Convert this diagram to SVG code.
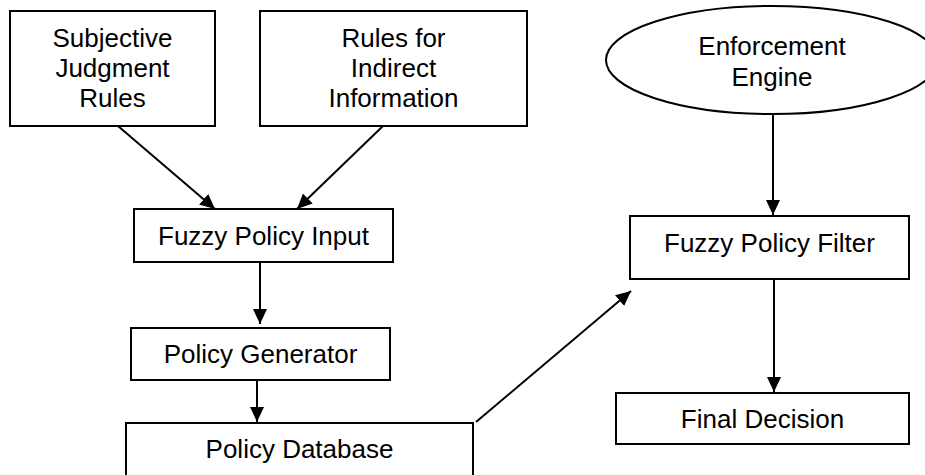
<svg xmlns="http://www.w3.org/2000/svg" width="925" height="475" viewBox="0 0 925 475">
<style>
.box{fill:#fff;stroke:#000;stroke-width:2}
.t{font-family:"Liberation Sans",Arial,sans-serif;font-size:26px;fill:#000;text-anchor:middle}
.c{stroke:#000;stroke-width:2;fill:none;marker-end:url(#ah)}
</style>
<defs>
<marker id="ah" markerWidth="15" markerHeight="14" refX="15" refY="7" orient="auto" markerUnits="userSpaceOnUse">
<path d="M0,0 L15,7 L0,14 Z" fill="#000"/>
</marker>
</defs>
<rect width="925" height="475" fill="#fff"/>
<g id="subjective">
<rect class="box" x="10" y="11" width="205" height="115"/>
<text class="t" x="112.5" y="47">Subjective</text>
<text class="t" x="112.5" y="77">Judgment</text>
<text class="t" x="112.5" y="107">Rules</text>
</g>
<g id="indirect">
<rect class="box" x="260" y="11" width="267" height="115"/>
<text class="t" x="393.5" y="47">Rules for</text>
<text class="t" x="393.5" y="77">Indirect</text>
<text class="t" x="393.5" y="107">Information</text>
</g>
<g id="engine">
<ellipse cx="772" cy="60" rx="166" ry="54" fill="#fff" stroke="#000" stroke-width="2"/>
<text class="t" x="772" y="55">Enforcement</text>
<text class="t" x="772" y="86">Engine</text>
</g>
<g id="input">
<rect class="box" x="134" y="209" width="259" height="53"/>
<text class="t" x="263.5" y="245">Fuzzy Policy Input</text>
</g>
<g id="filter">
<rect class="box" x="630" y="216" width="279" height="63"/>
<text class="t" x="769.5" y="252">Fuzzy Policy Filter</text>
</g>
<g id="generator">
<rect class="box" x="131" y="328" width="259" height="52"/>
<text class="t" x="260.5" y="363">Policy Generator</text>
</g>
<g id="database">
<rect class="box" x="126" y="423" width="347" height="60"/>
<text class="t" x="299.5" y="458">Policy Database</text>
</g>
<g id="decision">
<rect class="box" x="616" y="393" width="293" height="51"/>
<text class="t" x="762.5" y="428">Final Decision</text>
</g>
<g id="connectors">
<line class="c" x1="118" y1="126" x2="215" y2="209"/>
<line class="c" x1="383" y1="126" x2="297" y2="209"/>
<line class="c" x1="773" y1="114" x2="773" y2="215"/>
<line class="c" x1="260" y1="262" x2="260" y2="324"/>
<line class="c" x1="257" y1="380" x2="257" y2="422"/>
<line class="c" x1="476" y1="422" x2="631" y2="291"/>
<line class="c" x1="774" y1="279" x2="774" y2="392"/>
</g>
</svg>
